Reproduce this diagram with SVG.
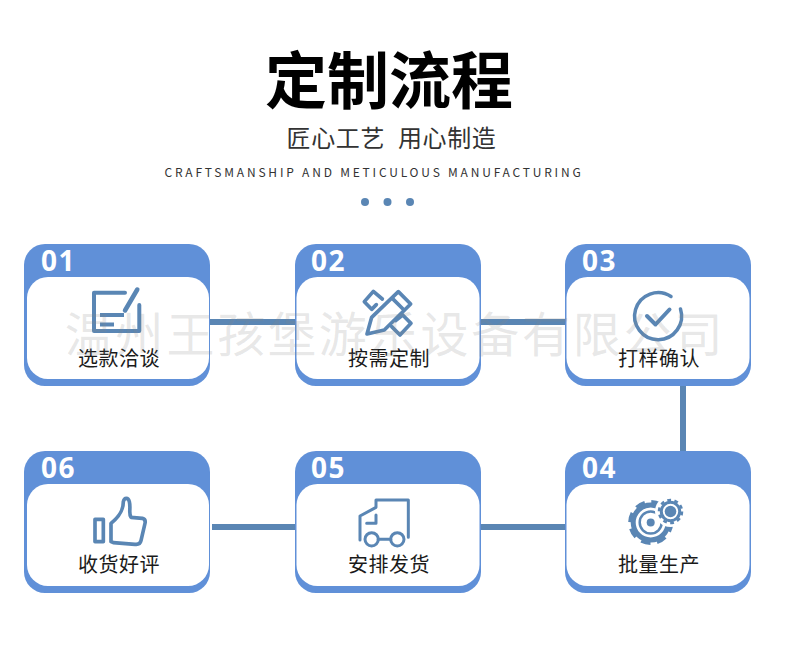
<svg xmlns="http://www.w3.org/2000/svg" width="790" height="655" viewBox="0 0 790 655">
<style>
.cjk{font-family:"Noto Sans CJK SC","Noto Sans",sans-serif}
.outer{fill:#6090d8}
.inner{fill:#fff}
.num{font-family:"Open Sans","Liberation Sans",sans-serif;font-weight:700;font-size:28px;fill:#fff;letter-spacing:1.500px}
.lbl{font-family:"Noto Sans CJK SC",sans-serif;font-size:20px;fill:#1a1a1a;text-anchor:middle;letter-spacing:.5px}
.ic{fill:none;stroke:#5a86b4;stroke-linecap:round;stroke-linejoin:round}
.conn{fill:#5a86b4}
</style>
<rect width="790" height="655" fill="#fff"/>
<g id="header">
<text class="cjk" x="389" y="104" font-size="62" font-weight="700" fill="#000" text-anchor="middle">定制流程</text>
<text class="cjk" x="391.500" y="147" font-size="24" fill="#333" text-anchor="middle" letter-spacing=".6" word-spacing="7">匠心工艺 用心制造</text>
<text class="cjk" x="374" y="177" font-size="12" fill="#333" text-anchor="middle" letter-spacing="2.800">CRAFTSMANSHIP AND METICULOUS MANUFACTURING</text>
<circle cx="365" cy="202" r="4" fill="#5a86b4"/><circle cx="387.500" cy="202" r="4" fill="#5a86b4"/><circle cx="410" cy="202" r="4" fill="#5a86b4"/>
</g>
<g id="connectors">
<rect class="conn" x="210" y="319" width="86" height="6"/>
<rect class="conn" x="481" y="319" width="85" height="6"/>
<rect class="conn" x="680" y="386" width="6" height="65"/>
<rect class="conn" x="481" y="524" width="85" height="6"/>
<rect class="conn" x="212" y="524" width="84" height="6"/>
</g>
<g id="node-01">
<rect class="outer" x="24" y="244" width="186" height="142" rx="21"/><rect class="inner" x="27" y="277" width="182" height="102" rx="21"/>
<text class="num" x="41" y="271">01</text>
<g class="ic" stroke-width="4"><path d="M125 292.700H94V331H139.300V305"/><path d="M137.300 289.500L125 310.500" stroke-width="4.500"/><path d="M100 315H124M100 324.500H114" stroke-linecap="butt"/></g>
<text class="lbl" x="119" y="366">选款洽谈</text>
</g>
<g id="node-02">
<rect class="outer" x="295" y="244" width="186" height="142" rx="21"/><rect class="inner" x="296.500" y="277" width="183" height="102" rx="21"/>
<text class="num" x="311" y="271">02</text>
<g class="ic" transform="translate(355 280) scale(.3333)" stroke-width="11"><path d="M36 162L50 112L130 35L167 72L88 150Z"/><path d="M112 55L147 90"/><path d="M82 57L55 34L28 65L50 88L64 74"/><path d="M122 122L143 105L168 130L135 165L110 140"/></g>
<text class="lbl" x="389" y="366">按需定制</text>
</g>
<g id="node-03">
<rect class="outer" x="565" y="244" width="186" height="142" rx="21"/><rect class="inner" x="566.500" y="277" width="183" height="102" rx="21"/>
<text class="num" x="582" y="271">03</text>
<g class="ic"><path d="M671 296.500A23.500 23.500 0 1 0 680.500 309" stroke-width="3.500"/><path d="M647 316L655.500 324.500L669.500 309.500" stroke-width="4"/></g>
<text class="lbl" x="659" y="366">打样确认</text>
</g>
<g id="node-04">
<rect class="outer" x="565" y="451" width="186" height="142" rx="21"/><rect class="inner" x="566.500" y="484" width="183" height="102" rx="21"/>
<text class="num" x="582" y="478">04</text>
<g>
<circle cx="650.700" cy="522.500" r="20.500" fill="none" stroke="#5a86b4" stroke-width="4" stroke-dasharray="9.500 6.600"/>
<circle cx="650.700" cy="522.500" r="17.500" fill="#fff" stroke="#5a86b4" stroke-width="5"/>
<circle cx="650.700" cy="522.500" r="11" fill="none" stroke="#5a86b4" stroke-width="2.500"/>
<circle cx="650.700" cy="522.500" r="4" fill="#5a86b4"/>
<circle cx="670.500" cy="511.500" r="15.500" fill="#fff"/>
<circle cx="670.500" cy="511.500" r="11.500" fill="none" stroke="#5a86b4" stroke-width="2.500" stroke-dasharray="3.800 3.430"/>
<circle cx="670.500" cy="511.500" r="9.200" fill="#fff" stroke="#5a86b4" stroke-width="3"/>
<circle cx="670.500" cy="511.500" r="5.800" fill="#5a86b4"/>
</g>
<text class="lbl" x="659" y="572">批量生产</text>
</g>
<g id="node-05">
<rect class="outer" x="295" y="451" width="186" height="142" rx="21"/><rect class="inner" x="296.500" y="484" width="183" height="102" rx="21"/>
<text class="num" x="311" y="478">05</text>
<g class="ic" transform="translate(350 490) scale(.3333)" stroke-width="9"><path d="M30 150V78L78 52V30H175V142"/><path d="M78 75V100H50"/><circle cx="65" cy="148" r="20"/><circle cx="142" cy="148" r="20"/><path d="M85 148H122"/></g>
<text class="lbl" x="389" y="572">安排发货</text>
</g>
<g id="node-06">
<rect class="outer" x="24" y="451" width="186" height="142" rx="21"/><rect class="inner" x="27" y="484" width="182" height="102" rx="21"/>
<text class="num" x="41" y="478">06</text>
<g class="ic" transform="translate(85 490) scale(.3333)" stroke-width="11"><rect x="30" y="88" width="25" height="67"/><path d="M78 155V100C105 78 115 60 115 35C118 22 130 22 133 35C138 55 130 70 138 82L172 85Q183 88 180 100L168 152Q165 165 150 163L85 158Z"/></g>
<text class="lbl" x="119" y="572">收货好评</text>
</g>
<text id="watermark" class="cjk" x="395" y="352" font-size="48" fill="#888" fill-opacity=".2" text-anchor="middle" letter-spacing="2.800">温州王孩堡游乐设备有限公司</text>
</svg>
